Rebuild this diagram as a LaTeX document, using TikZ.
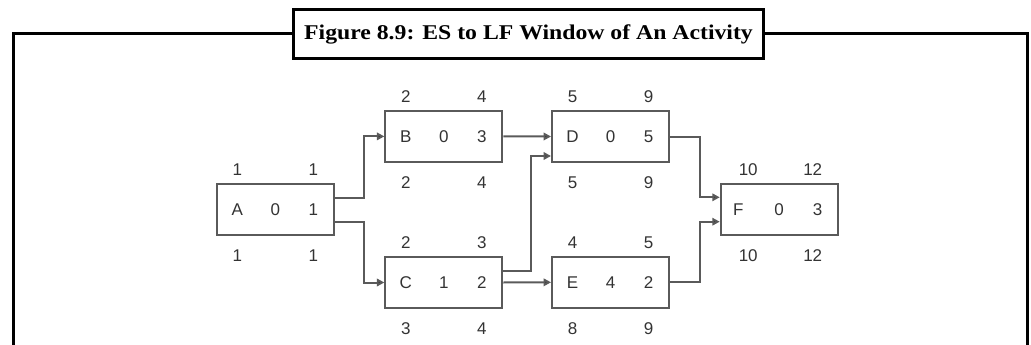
\documentclass[tikz,border=0pt]{standalone}
\usepackage{fontspec}
\setmainfont{Liberation Serif}
\setsansfont{Liberation Sans}
\usetikzlibrary{arrows.meta}
\definecolor{boxgray}{HTML}{5A5A5A}
\definecolor{txtgray}{HTML}{333333}
\newcommand\activity[9]{%
  \node[actbox] (#1) at #2 {};
  \node[lbl] (#1-n) at ([xshift=-38pt]#1.center) {#3};
  \node[lbl] (#1-s) at (#1.center) {#4};
  \node[lbl] (#1-d) at ([xshift=38pt]#1.center) {#5};
  \node[lbl] (#1-es) at ([xshift=-38pt,yshift=13.5pt]#1.north) {#6};
  \node[lbl] (#1-ef) at ([xshift=38pt,yshift=13.5pt]#1.north) {#7};
  \node[lbl] (#1-ls) at ([xshift=-38pt,yshift=-19.5pt]#1.south) {#8};
  \node[lbl] (#1-lf) at ([xshift=38pt,yshift=-19.5pt]#1.south) {#9};
}
\begin{document}
\begin{tikzpicture}[x=1pt,y=-1pt,
  frame/.style={line width=3pt,draw=black},
  titlebox/.style={draw=black,line width=3pt,minimum width=470pt,minimum height=49pt,
    inner sep=0pt,font=\fontsize{21}{25}\selectfont\bfseries},
  actbox/.style={draw=boxgray,line width=1.9pt,minimum width=117pt,minimum height=51pt,inner sep=0pt},
  lbl/.style={inner sep=0pt,text=txtgray,font=\sffamily\fontsize{17}{20}\selectfont},
  conn/.style={draw=boxgray,line width=2pt,-{Triangle[length=7.5pt,width=7.5pt,fill=black!80]}}]
\useasboundingbox (0,0) rectangle (1031,345);
\node[titlebox] (title) at (528.5,34) {\scalebox{1.13}[1]{Figure 8.9: ES to LF Window of An Activity}};
\coordinate (fl) at (13.5,345);
\coordinate (fr) at (1027.5,345);
\draw[frame] (fl) |- (title.west);
\draw[frame] (title.east) -| (fr);

\activity{A}{(275.3,209.3)}{A}{0}{1}{1}{1}{1}{1}
\activity{B}{(443.8,136.4)}{B}{0}{3}{2}{4}{2}{4}
\activity{C}{(443.8,282.5)}{C}{1}{2}{2}{3}{3}{4}
\activity{D}{(610.5,136.5)}{D}{0}{5}{5}{9}{5}{9}
\activity{E}{(610.5,282.3)}{E}{4}{2}{4}{5}{8}{9}

\node[actbox] (F) at (779.2,209.3) {};
\node[lbl] (F-n) at ([xshift=-41pt]F.center) {F};
\node[lbl] (F-s) at (F.center) {0};
\node[lbl] (F-d) at ([xshift=38.5pt]F.center) {3};
\node[lbl] (F-es) at ([xshift=-31pt,yshift=13.5pt]F.north) {10};
\node[lbl] (F-ef) at ([xshift=33.5pt,yshift=13.5pt]F.north) {12};
\node[lbl] (F-ls) at ([xshift=-31pt,yshift=-19.5pt]F.south) {10};
\node[lbl] (F-lf) at ([xshift=33.5pt,yshift=-19.5pt]F.south) {12};

\draw[conn] ([yshift=11.6pt]A.east) -- ++(29.3pt,0) |- (B.west);
\draw[conn] ([yshift=-12.4pt]A.east) -- ++(29.3pt,0) |- (C.west);
\draw[conn] (B.east) -- (D.west);
\draw[conn] ([yshift=11.8pt]C.east) -- ++(27.3pt,0) |- ([yshift=-19.5pt]D.west);
\draw[conn] (C.east) -- (E.west);
\draw[conn] (D.east) -- ++(30pt,0) |- ([yshift=12pt]F.west);
\draw[conn] (E.east) -- ++(30pt,0) |- ([yshift=-12.4pt]F.west);
\end{tikzpicture}
\end{document}
